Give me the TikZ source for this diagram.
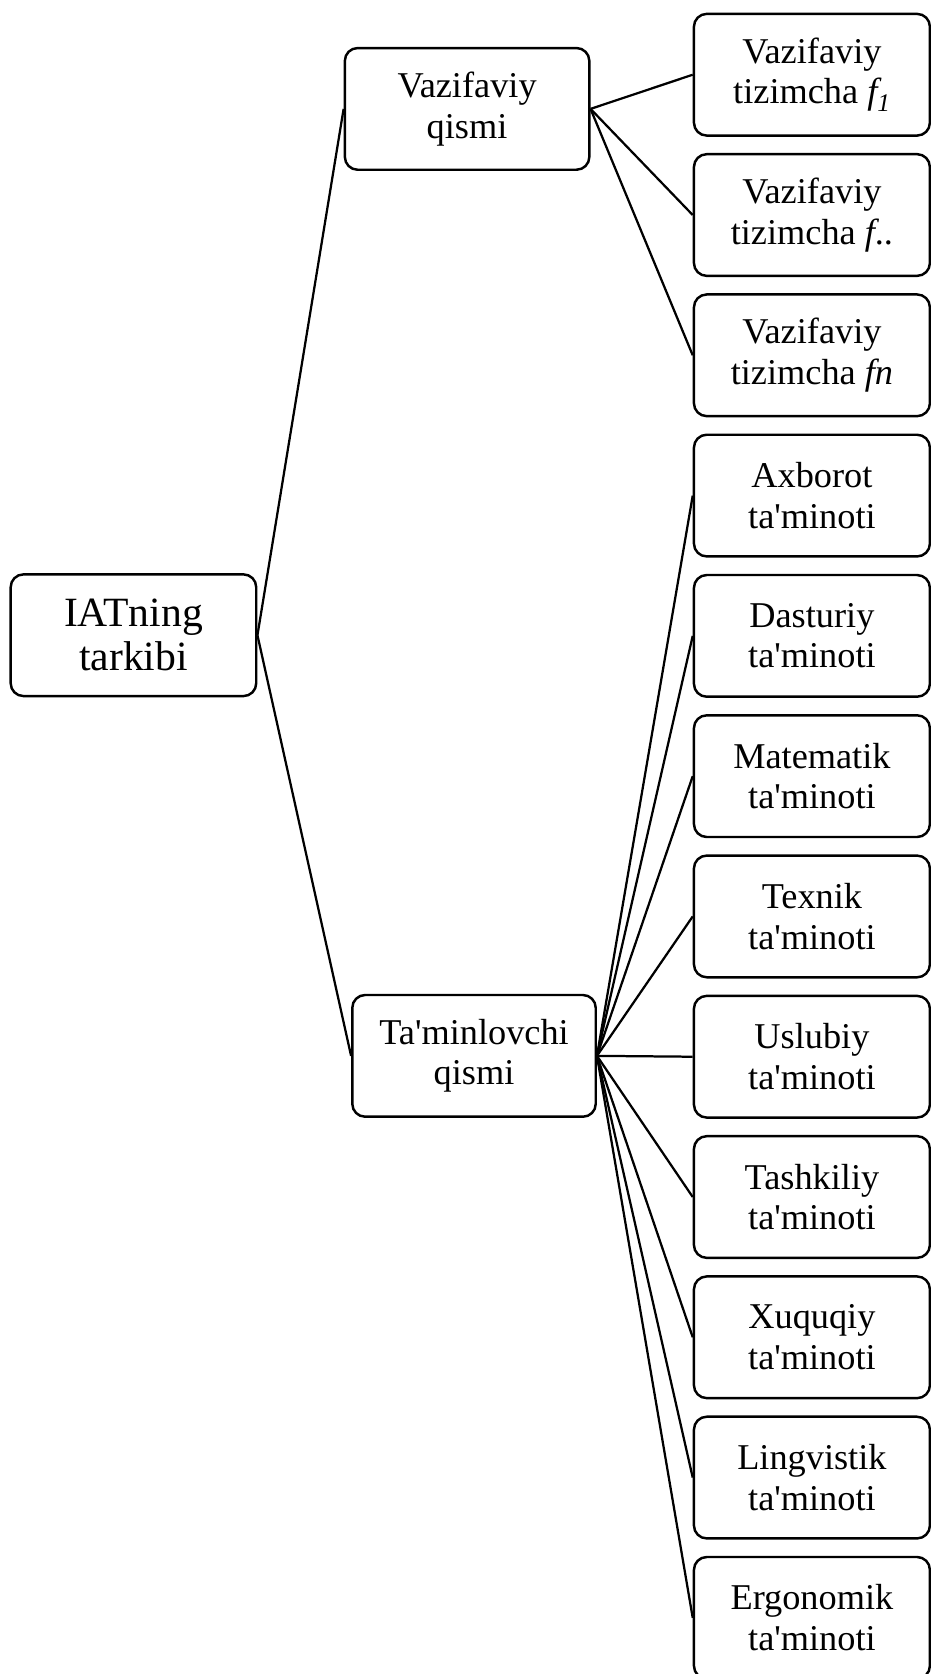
\documentclass[tikz,border=0pt]{standalone}
\usepackage{fontspec}
\setmainfont{Liberation Serif}[Ligatures=TeXOff]
\begin{document}
\begin{tikzpicture}[x=1pt,y=-1pt,
    blok/.style={draw, line width=2.3pt, rounded corners=12pt, align=center,
      minimum height=114pt, inner sep=0pt, font=\fontsize{34}{38}\selectfont},
    chiziq/.style={line width=2.1pt}]
  \useasboundingbox (0,0) rectangle (872,1568);
  % chap ustun
  \node[blok, minimum width=230pt, font=\fontsize{39}{41}\selectfont] (iat) at (125,595) {IATning\\tarkibi};
  % o'rta ustun
  \node[blok, minimum width=229pt] (vaz) at (437.5,102) {Vazifaviy\\qismi};
  \node[blok, minimum width=228pt] (tam) at (444,989) {Ta'minlovchi\\qismi};
  \draw[chiziq] (iat.east) -- (vaz.west);
  \draw[chiziq] (iat.east) -- (tam.west);
  % o'ng ustun
  \node[blok, minimum width=221pt] (f0) at (760.5,70) {Vazifaviy\\tizimcha \textit{f\textsubscript{1}}};
  \node[blok, minimum width=221pt] (f1) at (760.5,201.4) {Vazifaviy\\tizimcha \textit{f}..};
  \node[blok, minimum width=221pt] (f2) at (760.5,332.8) {Vazifaviy\\tizimcha \textit{fn}};
  \foreach \i in {0,1,2}
    \draw[chiziq] (vaz.east) -- (f\i.west);
  \foreach \nom [count=\i from 3] in {Axborot,Dasturiy,Matematik,Texnik,Uslubiy,Tashkiliy,Xuquqiy,Lingvistik,Ergonomik} {
    \node[blok, minimum width=221pt] (t\i) at (760.5,{70+131.4*\i}) {\nom\\ta'minoti};
    \draw[chiziq] (tam.east) -- (t\i.west);
  }
\end{tikzpicture}
\end{document}
